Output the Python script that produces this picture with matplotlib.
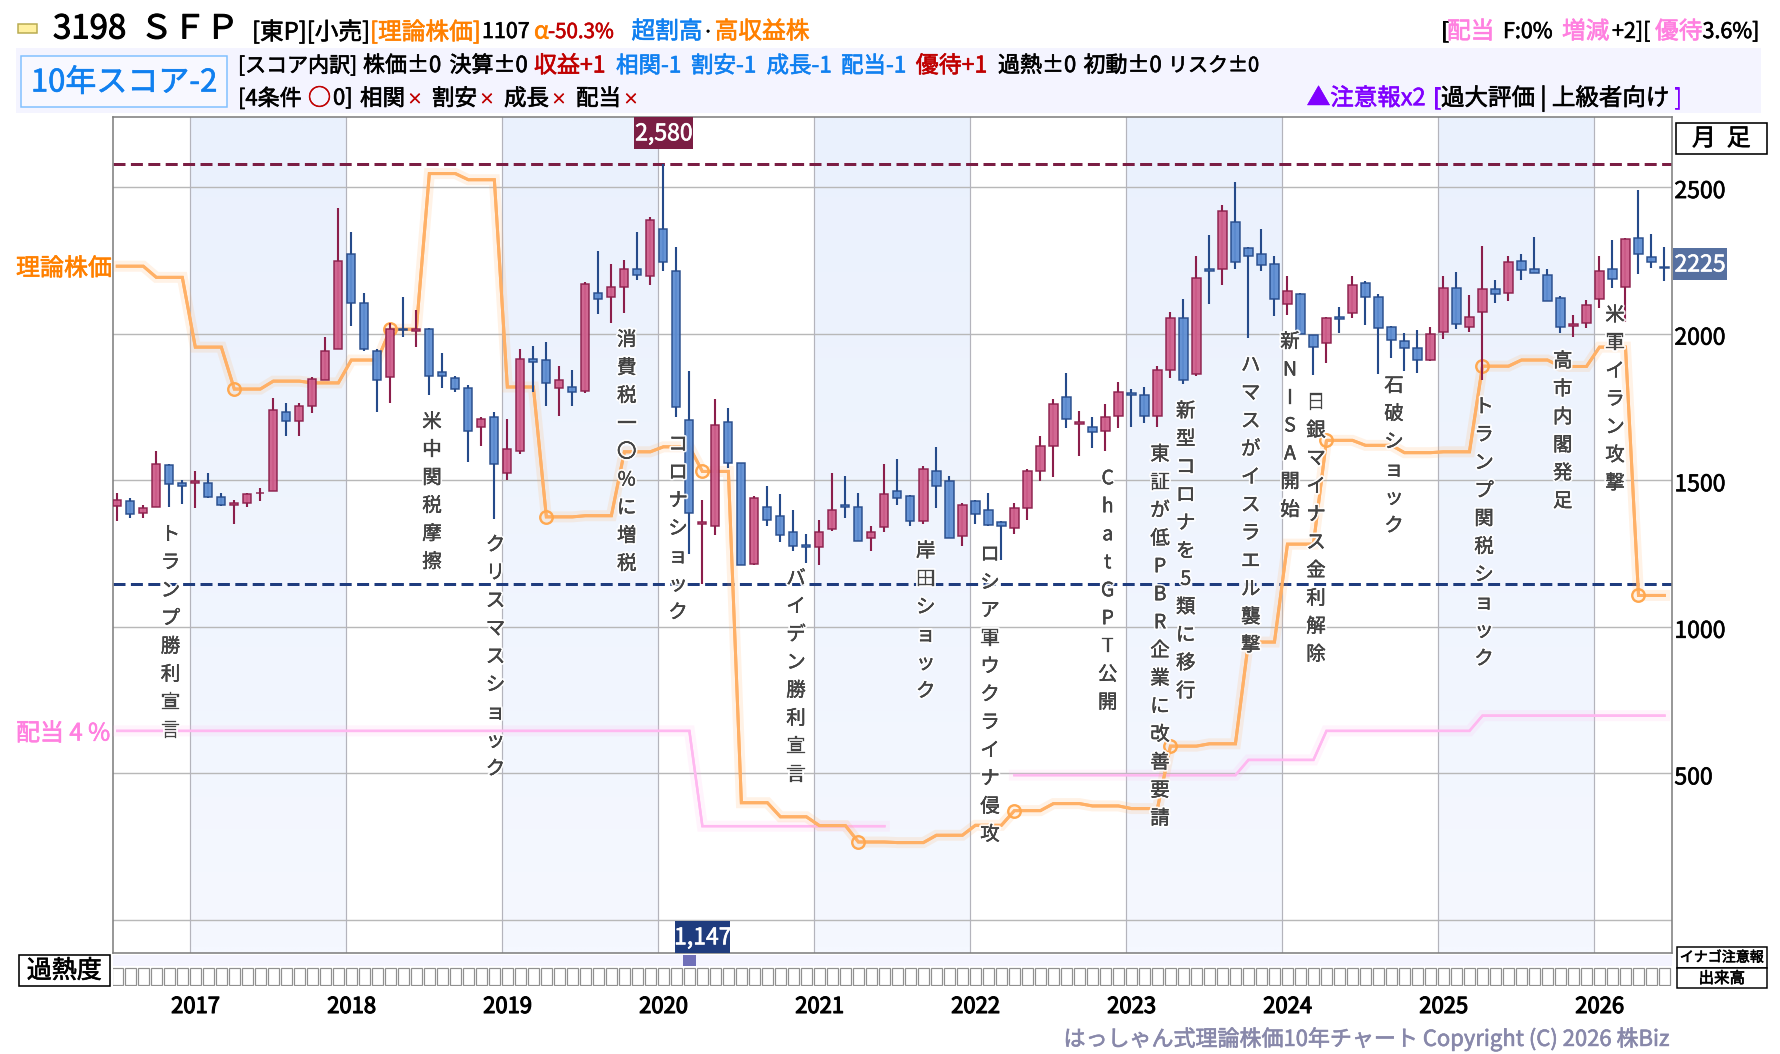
"""Ten-year monthly candlestick chart for 3198 SFP with theoretical price overlay."""

from __future__ import annotations

import matplotlib

matplotlib.use("Agg")
import matplotlib.patheffects as pe
import matplotlib.pyplot as plt
import numpy as np
from matplotlib.patches import Rectangle
from matplotlib.transforms import ScaledTranslation


WIDTH, HEIGHT = 1780, 1054

opens = [1413,1430,1389,1407,1553,1489,1492,1489,1444,1414,1421,1455,1462,1733,1703,1754,1843,1948,2271,2104,1941,1853,2017,2010,2017,1869,1849,1816,1680,1717,1523,1601,1914,1911,1816,1819,1805,2139,2125,2159,2221,2197,2357,2214,1707,1352,1343,1697,1560,1213,1407,1377,1322,1278,1271,1332,1414,1407,1302,1339,1462,1445,1360,1533,1499,1309,1430,1400,1358,1336,1404,1530,1618,1785,1693,1683,1669,1720,1799,1792,1720,1877,2054,1863,2221,2221,2381,2292,2272,2238,2102,2136,1996,1969,2057,2071,2173,2125,2023,1976,1952,1911,2006,2156,2023,2074,2153,2139,2248,2221,2200,2122,2027,2037,2119,2221,2159,2326,2262,2228]
closes = [1431,1384,1404,1556,1486,1481,1496,1444,1414,1421,1454,1458,1741,1703,1753,1845,1941,2248,2105,1948,1843,2017,2013,2017,1857,1857,1812,1669,1710,1554,1607,1914,1904,1833,1842,1802,2170,2119,2159,2221,2200,2387,2245,1751,1387,1356,1690,1560,1211,1438,1366,1312,1275,1272,1322,1397,1407,1292,1322,1452,1438,1360,1540,1479,1302,1414,1384,1346,1343,1404,1530,1618,1761,1710,1697,1666,1714,1802,1792,1720,1877,2054,1843,2190,2214,2418,2245,2265,2234,2119,2146,2000,1955,2054,2051,2166,2125,2020,1979,1952,1911,2000,2156,2034,2057,2153,2136,2245,2217,2207,2112,2023,2034,2098,2214,2187,2323,2272,2245,2225]
highs = [1456,1441,1415,1601,1554,1500,1531,1524,1458,1431,1455,1475,1782,1765,1765,1853,1989,2428,2347,2139,1948,2037,2125,2081,2020,1935,1857,1825,1717,1734,1710,1948,1959,1972,1891,1877,2176,2282,2238,2251,2347,2398,2580,2296,1874,1431,1778,1748,1560,1445,1479,1452,1397,1315,1366,1526,1516,1458,1343,1557,1574,1448,1550,1615,1513,1424,1431,1455,1360,1421,1537,1652,1778,1867,1737,1717,1761,1836,1812,1819,1891,2074,2119,2265,2336,2439,2517,2296,2357,2265,2198,2139,1996,2057,2091,2198,2180,2136,2027,2003,2013,2023,2198,2210,2132,2299,2183,2265,2272,2330,2221,2129,2064,2115,2265,2319,2326,2490,2340,2296]
lows = [1362,1372,1372,1407,1410,1420,1406,1440,1413,1352,1410,1430,1462,1651,1651,1730,1843,1948,2026,1941,1733,1764,1988,1954,1791,1815,1801,1563,1617,1369,1502,1588,1801,1753,1719,1753,1799,2066,2036,2070,2182,2165,2213,1716,1248,1147,1314,1542,1211,1210,1345,1290,1260,1216,1212,1328,1372,1292,1260,1325,1416,1345,1352,1404,1302,1277,1352,1343,1229,1318,1365,1498,1512,1678,1583,1610,1600,1678,1682,1695,1682,1849,1828,1857,2100,2165,2220,1985,2213,2060,2063,2000,1859,1900,2002,2053,2029,1863,1917,1872,1866,1908,1981,2015,2005,1843,2104,2111,2182,2207,2112,2002,1988,2019,2087,2155,2040,2203,2224,2180]

# one value per quarter, held for its three months
theory_quarterly = [2230,2192,1954,1811,1838,1832,1910,2015,2546,2525,1818,1375,1379,1597,1614,1530,400,352,322,266,264,289,323,373,397,389,380,593,601,948,1282,1636,1619,1594,1597,1889,1910,1888,1954,1107]
dividend_quarterly = [645,645,645,645,645,645,645,645,645,645,645,645,645,645,645,320,320,320,320,320,np.nan,np.nan,np.nan,494,494,494,494,494,494,546,546,645,645,645,645,697,697,697,697,697]

years = [2017, 2018, 2019, 2020, 2021, 2022, 2023, 2024, 2025, 2026]
price_ticks = [500, 1000, 1500, 2000, 2500]
grid_levels = [0, 500, 1000, 1500, 2000, 2500]
heat_levels = [0] * 44 + [1] + [0] * 75

events = [
    "トランプ勝利宣言", "米中関税摩擦", "クリスマスショック", "消費税一〇%に増税", "コロナショック",
    "バイデン勝利宣言", "岸田ショック", "ロシア軍ウクライナ侵攻", "ChatGPT公開",
    "東証が低PBR企業に改善要請", "新型コロナを5類に移行", "ハマスがイスラエル襲撃", "新NISA開始",
    "日銀マイナス金利解除", "石破ショック", "トランプ関税ショック", "高市内閣発足", "米軍イラン攻撃",
]
event_x = [170.5, 432, 495.5, 626.7, 678, 796, 925.7, 990, 1107.7, 1160, 1185.7, 1250.7, 1290, 1316, 1394, 1484, 1562.7, 1615]
event_y = [532.7, 420, 543, 338, 442.7, 576.7, 549.3, 552.7, 476.7, 452.7, 409.3, 363.3, 340, 400.7, 384, 405, 359.3, 313.3]

ORANGE = "#FF8000"
RED = "#C00000"
BLUE = "#1080F0"
PINK = "#FF80E0"
PURPLE = "#8000FF"
HIGH_COLOR = "#7B1E44"
LOW_COLOR = "#1F3C7E"
YEAR_START = 5.6

plt.rcParams["font.family"] = ["Noto Sans CJK JP", "DejaVu Sans"]
plt.rcParams["axes.unicode_minus"] = False


def pt(px: float) -> float:
    return px * 72 / 100


def thick(color, width=0.45):
    """Fatten glyphs slightly so small text keeps some weight."""
    return [pe.withStroke(linewidth=width, foreground=color)]


def add_axes_px(fig, left, top, right, bottom):
    return fig.add_axes([left / WIDTH, 1 - bottom / HEIGHT, (right - left) / WIDTH, (bottom - top) / HEIGHT])


def put(fig, x, y, text, size=22.5, color="black", ha="left", effects=None, **kwargs):
    """Place text at a pixel position, y being the vertical centre."""
    return fig.text(
        x / WIDTH,
        1 - (y + 2) / HEIGHT,
        text,
        fontsize=pt(size),
        color=color,
        ha=ha,
        va="center",
        path_effects=effects if effects is not None else thick(color),
        **kwargs,
    )


def box(fig, left, top, right, bottom, face="none", edge="none", lw=0.0, zorder=1):
    fig.add_artist(
        Rectangle(
            (left / WIDTH, 1 - bottom / HEIGHT),
            (right - left) / WIDTH,
            (bottom - top) / HEIGHT,
            transform=fig.transFigure,
            facecolor=face,
            edgecolor=edge,
            linewidth=pt(lw),
            zorder=zorder,
        )
    )


def draw_header(fig):
    box(fig, 18, 24, 37, 33, face="#FFF0A0", edge="#B8AA50", lw=1.5)
    put(fig, 53, 27, "3198", size=33, effects=thick("black", 0.7))
    put(fig, 140, 27, "ＳＦＰ", size=33, effects=thick("black", 0.7))
    first_row = [
        (252, "[東P][小売]", "black"), (370, "[理論株価]", ORANGE), (482, "1107", "black"),
        (534, "α", ORANGE), (631.5, "超割高", BLUE),
        (714.7, "高収益株", ORANGE), (1441, "[", "black"), (1447, "配当", PINK), (1503, "F:0%", "black"),
        (1562, "増減", PINK), (1612, "+2][", "black"), (1655, "優待", PINK), (1702.5, "3.6%]", "black"),
    ]
    for x, text, color in first_row:
        put(fig, x, 30, text, size=21.5 if text.isascii() else 23.7, color=color)
    put(fig, 548, 30, "-50.3%", size=20.5, color=RED)
    put(fig, 708, 30, "・", size=11.5, ha="center")

    box(fig, 16, 48, 1761, 113, face="#F4F4FF")
    box(fig, 21, 56, 227, 107, face="#F8F8FF", edge="#80C0FF", lw=1.5, zorder=2)
    put(fig, 124, 81, "10年スコア-2", size=31, color=BLUE, ha="center", zorder=3)

    second_row = [
        (238, "[スコア内訳]", "black", 21), (363, "株価±0", "black", 22), (449.5, "決算±0", "black", 22),
        (534, "収益+1", RED, 23), (616, "相関-1", BLUE, 22.5), (691, "割安-1", BLUE, 22.5),
        (766.5, "成長-1", BLUE, 22.5), (841, "配当-1", BLUE, 22.5), (915.7, "優待+1", RED, 23),
        (998, "過熱±0", "black", 22), (1083.5, "初動±0", "black", 22), (1168, "リスク±0", "black", 20),
    ]
    for x, text, color, size in second_row:
        put(fig, x, 64, text, size=size, color=color)

    third_row = [
        (238, "[4条件", "black", 22), (308, "○", RED, 23), (333, "0]", "black", 22), (360, "相関", "black", 22.5),
        (432, "割安", "black", 22.5), (504, "成長", "black", 22.5), (576, "配当", "black", 22.5),
        (1306.8, "▲注意報x2", PURPLE, 23.5), (1433, "[", PURPLE, 22.5),
        (1441, "過大評価 | 上級者向け", "black", 23.5), (1674, "]", PURPLE, 22.5),
    ]
    for x, text, color, size in third_row:
        put(fig, x, 96.7, text, size=size, color=color)
    for x in (415, 487, 559, 631):
        put(fig, x, 98, "×", size=15, color=RED, ha="center")


def draw_price_panel(fig, ax):
    month = np.arange(len(closes))
    o, c, h, l = map(np.asarray, (opens, closes, highs, lows))
    year_lines = YEAR_START + 12 * np.arange(len(years))

    # alternating year bands fade slightly towards the bottom
    gradient = np.linspace(0, 1, 64)[:, None, None] * (np.array([245, 248, 255]) - np.array([234, 241, 253]))
    gradient = (np.array([234, 241, 253]) + gradient) / 255
    for start in year_lines[::2]:
        ax.imshow(gradient, extent=(start, start + 12, -113, 2740), aspect="auto", interpolation="bilinear", zorder=0)
    ax.set_xlim(-0.354, 119.6)
    ax.set_ylim(-112.6, 2740)

    for level in grid_levels:
        ax.axhline(level, color="#B8B8B8", lw=pt(1.4), zorder=1)
    for x in year_lines:
        ax.axvline(x, color="#B4B4BC", lw=pt(1.2), zorder=1)

    ax.axhline(h.max(), color=HIGH_COLOR, lw=pt(3), dashes=(4, 1.8), zorder=2)
    ax.axhline(l.min(), color=LOW_COLOR, lw=pt(3), dashes=(4, 1.8), zorder=2)

    # theoretical price and dividend lines carry a soft glow
    quarter = np.repeat(np.arange(40), 3)
    theory = np.asarray(theory_quarterly, dtype=float)[quarter]
    dividend = np.asarray(dividend_quarterly, dtype=float)[quarter]
    ax.plot(month, dividend, color="#FFB8F0", lw=pt(2.4), zorder=3, solid_joinstyle="miter",
            path_effects=[pe.withStroke(linewidth=pt(11), foreground="#FFB8F0", alpha=0.15), pe.Normal()])
    ax.plot(month, theory, color="#FFB066", lw=pt(3), zorder=4, solid_joinstyle="miter",
            path_effects=[pe.withStroke(linewidth=pt(11), foreground="#FFB066", alpha=0.16), pe.Normal()])
    yearly = month[9::12]
    ax.plot(yearly, theory[yearly], ls="none", marker="o", ms=pt(12.5), mfc="none", mec="#FFA850", mew=pt(2.4), zorder=4)

    # candles: wicks first, bodies on top
    up = c >= o
    for mask, face, edge in ((up, "#CF5F8C", "#8B1E4B"), (~up, "#5F8ED2", "#254A8A")):
        ax.vlines(month[mask], l[mask], h[mask], color=edge, lw=pt(2.1), zorder=5)
        ax.bar(month[mask], np.abs(c - o)[mask], bottom=np.minimum(o, c)[mask], width=0.63,
               facecolor=face, edgecolor=edge, linewidth=pt(1.5), alpha=0.95, zorder=6)

    ax.yaxis.tick_right()
    ax.set_yticks(price_ticks, labels=[str(v) for v in price_ticks])
    ax.tick_params(axis="y", length=0, pad=1.5, labelsize=pt(23))
    nudge = ScaledTranslation(0, -2 / 100, fig.dpi_scale_trans)
    for label in ax.get_yticklabels():
        label.set_transform(label.get_transform() + nudge)
        label.set_path_effects(thick("black"))
    ax.set_xticks([])
    for spine in ax.spines.values():
        spine.set_color("#808080")
        spine.set_linewidth(pt(1.6))

    # tags for the period high and low and the latest close
    for x_value, top, bottom, text, face in (
        (42, 117, 148.7, f"{h.max():,}", HIGH_COLOR),
        (45, 920.7, 953, f"{l.min():,}", LOW_COLOR),
    ):
        centre = 117.3 + 13 * x_value
        half = 29 if x_value == 42 else 27
        box(fig, centre - half, top, centre + half + 1, bottom, face=face, zorder=7)
        put(fig, centre + 0.5, (top + bottom) / 2 - 1, text, size=23, color="white", ha="center", zorder=8)
    box(fig, 1672.7, 248, 1727, 280, face="#5670A0", zorder=7)
    put(fig, 1700, 263, str(closes[-1]), size=23, color="white", ha="center", zorder=8)


def draw_heat_strip(fig, ax):
    month = np.arange(len(heat_levels))
    ax.set_xlim(-0.354, 119.6)
    ax.set_ylim(0, 31)
    ax.axhspan(20, 31, color="#F4F4FF", lw=0)
    heat = np.asarray(heat_levels)
    ax.bar(month[heat > 0], 11, bottom=20, width=1.0, color="#6F6FB8")
    ax.bar(month, 17.5, bottom=1, width=0.8, facecolor="white", edgecolor="#909090", linewidth=pt(1.2))
    ax.set_yticks([])
    ax.set_xticks(YEAR_START + 12 * np.arange(len(years)) + 0.42, labels=[str(y) for y in years])
    ax.tick_params(axis="x", length=0, pad=pt(10), labelsize=pt(22))
    for label in ax.get_xticklabels():
        label.set_path_effects(thick("black", 0.8))
    for spine in ax.spines.values():
        spine.set_visible(False)


def draw_events(fig):
    halo = [pe.withStroke(linewidth=pt(4), foreground="white", alpha=0.9), pe.withStroke(linewidth=0.2, foreground="#444444")]
    for name, x, y in zip(events, event_x, event_y):
        for row, char in enumerate(name):
            put(fig, x, y + 28 * row, char, size=19.5, color="#444444", ha="center", zorder=9, effects=halo)


def draw_side_labels(fig):
    put(fig, 16, 267, "理論株価", size=24, color=ORANGE)
    put(fig, 16, 732, "配当 4 %", size=24, color=PINK)

    box(fig, 1676, 123, 1766.7, 154, face="white", edge="black", lw=1.6)
    put(fig, 1721.3, 137, "月  足", size=24, ha="center", zorder=3)
    box(fig, 19, 955.3, 109.6, 985.7, face="white", edge="black", lw=1.6)
    put(fig, 64.3, 969, "過熱度", size=25, ha="center", zorder=3)
    box(fig, 1676.7, 947.3, 1767, 967.7, face="white", edge="black", lw=1.5)
    put(fig, 1721.8, 955.5, "イナゴ注意報", size=14, ha="center", zorder=3)
    box(fig, 1676.7, 967.7, 1767, 988.3, face="white", edge="black", lw=1.5)
    put(fig, 1721.8, 976.5, "出来高", size=15.5, ha="center", zorder=3)

    put(fig, 1669, 1037, "はっしゃん式理論株価10年チャート Copyright (C) 2026 株Biz", size=22, color="#8888AA", ha="right")


def main() -> None:
    fig = plt.figure(figsize=(WIDTH / 100, HEIGHT / 100), dpi=100, facecolor="white")
    draw_header(fig)
    price_ax = add_axes_px(fig, 112.7, 116.7, 1672.3, 953)
    heat_ax = add_axes_px(fig, 112.7, 955, 1672.3, 986)
    draw_price_panel(fig, price_ax)
    draw_heat_strip(fig, heat_ax)
    draw_events(fig)
    draw_side_labels(fig)
    fig.savefig("out.png", dpi=100)
    plt.close(fig)


if __name__ == "__main__":
    main()
